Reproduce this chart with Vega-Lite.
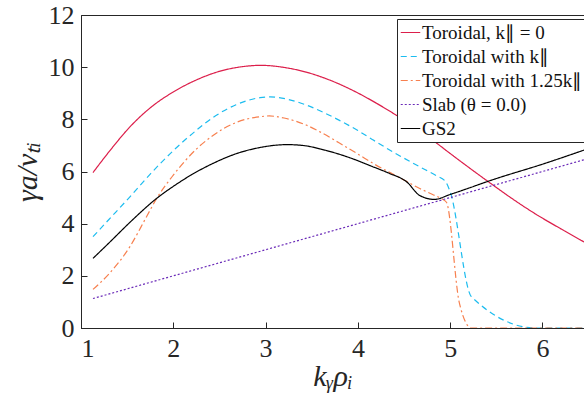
{
  "$schema": "https://vega.github.io/schema/vega-lite/v6.json",
  "width": 503,
  "height": 313,
  "autosize": {"type": "none"},
  "padding": {"left": 81, "top": 15, "right": 0, "bottom": 65},
  "background": "white",
  "config": {
    "view": {"stroke": "#262626", "strokeWidth": 1},
    "font": "Liberation Serif",
    "axis": {
      "domainColor": "#262626", "tickColor": "#262626", "labelColor": "#262626", "titleColor": "#262626",
      "grid": false, "labelFont": "Liberation Serif", "labelFontSize": 26, "tickSize": -6,
      "domainWidth": 1, "tickWidth": 1, "titleFont": "Liberation Serif", "titleFontWeight": "normal",
      "titleFontStyle": "italic", "titleFontSize": 30
    },
    "legend": {
      "fillColor": "white", "strokeColor": "#262626", "padding": 3, "symbolType": "stroke",
      "symbolSize": 380, "symbolStrokeWidth": 1.2, "labelFont": "Liberation Serif", "labelFontSize": 19,
      "labelColor": "#111111", "labelOffset": 1, "rowPadding": 3, "labelLimit": 400
    }
  },
  "data": {
    "values": [
      {"series": "Toroidal, k∥ = 0", "x": 1.13, "y": 5.96},
      {"series": "Toroidal, k∥ = 0", "x": 1.3, "y": 6.74},
      {"series": "Toroidal, k∥ = 0", "x": 1.53, "y": 7.71},
      {"series": "Toroidal, k∥ = 0", "x": 1.75, "y": 8.44},
      {"series": "Toroidal, k∥ = 0", "x": 2.0, "y": 9.05},
      {"series": "Toroidal, k∥ = 0", "x": 2.25, "y": 9.51},
      {"series": "Toroidal, k∥ = 0", "x": 2.5, "y": 9.84},
      {"series": "Toroidal, k∥ = 0", "x": 2.75, "y": 10.02},
      {"series": "Toroidal, k∥ = 0", "x": 2.95, "y": 10.07},
      {"series": "Toroidal, k∥ = 0", "x": 3.2, "y": 9.99},
      {"series": "Toroidal, k∥ = 0", "x": 3.44, "y": 9.81},
      {"series": "Toroidal, k∥ = 0", "x": 3.6, "y": 9.63},
      {"series": "Toroidal, k∥ = 0", "x": 3.8, "y": 9.35},
      {"series": "Toroidal, k∥ = 0", "x": 4.0, "y": 9.01},
      {"series": "Toroidal, k∥ = 0", "x": 4.2, "y": 8.62},
      {"series": "Toroidal, k∥ = 0", "x": 4.42, "y": 8.15},
      {"series": "Toroidal, k∥ = 0", "x": 4.6, "y": 7.74},
      {"series": "Toroidal, k∥ = 0", "x": 4.8, "y": 7.23},
      {"series": "Toroidal, k∥ = 0", "x": 5.0, "y": 6.69},
      {"series": "Toroidal, k∥ = 0", "x": 5.2, "y": 6.16},
      {"series": "Toroidal, k∥ = 0", "x": 5.46, "y": 5.49},
      {"series": "Toroidal, k∥ = 0", "x": 5.7, "y": 4.89},
      {"series": "Toroidal, k∥ = 0", "x": 5.93, "y": 4.36},
      {"series": "Toroidal, k∥ = 0", "x": 6.2, "y": 3.8},
      {"series": "Toroidal, k∥ = 0", "x": 6.45, "y": 3.3},

      {"series": "Toroidal with k∥", "x": 1.13, "y": 3.5},
      {"series": "Toroidal with k∥", "x": 1.3, "y": 4.15},
      {"series": "Toroidal with k∥", "x": 1.53, "y": 5.03},
      {"series": "Toroidal with k∥", "x": 1.75, "y": 5.9},
      {"series": "Toroidal with k∥", "x": 2.0, "y": 6.8},
      {"series": "Toroidal with k∥", "x": 2.25, "y": 7.58},
      {"series": "Toroidal with k∥", "x": 2.43, "y": 8.07},
      {"series": "Toroidal with k∥", "x": 2.68, "y": 8.56},
      {"series": "Toroidal with k∥", "x": 2.94, "y": 8.83},
      {"series": "Toroidal with k∥", "x": 3.05, "y": 8.86},
      {"series": "Toroidal with k∥", "x": 3.25, "y": 8.76},
      {"series": "Toroidal with k∥", "x": 3.44, "y": 8.55},
      {"series": "Toroidal with k∥", "x": 3.6, "y": 8.31},
      {"series": "Toroidal with k∥", "x": 3.8, "y": 7.96},
      {"series": "Toroidal with k∥", "x": 4.0, "y": 7.57},
      {"series": "Toroidal with k∥", "x": 4.16, "y": 7.22},
      {"series": "Toroidal with k∥", "x": 4.4, "y": 6.71},
      {"series": "Toroidal with k∥", "x": 4.67, "y": 6.18},
      {"series": "Toroidal with k∥", "x": 4.85, "y": 5.84},
      {"series": "Toroidal with k∥", "x": 4.95, "y": 5.61},
      {"series": "Toroidal with k∥", "x": 5.0, "y": 5.22},
      {"series": "Toroidal with k∥", "x": 5.23, "y": 1.2},
      {"series": "Toroidal with k∥", "x": 5.93, "y": 0.0},
      {"series": "Toroidal with k∥", "x": 6.45, "y": 0.0},

      {"series": "Toroidal with 1.25k∥", "x": 1.13, "y": 1.48},
      {"series": "Toroidal with 1.25k∥", "x": 1.31, "y": 2.1},
      {"series": "Toroidal with 1.25k∥", "x": 1.53, "y": 3.12},
      {"series": "Toroidal with 1.25k∥", "x": 1.7, "y": 4.2},
      {"series": "Toroidal with 1.25k∥", "x": 1.82, "y": 4.97},
      {"series": "Toroidal with 1.25k∥", "x": 2.0, "y": 5.86},
      {"series": "Toroidal with 1.25k∥", "x": 2.25, "y": 6.86},
      {"series": "Toroidal with 1.25k∥", "x": 2.43, "y": 7.38},
      {"series": "Toroidal with 1.25k∥", "x": 2.68, "y": 7.88},
      {"series": "Toroidal with 1.25k∥", "x": 2.94, "y": 8.1},
      {"series": "Toroidal with 1.25k∥", "x": 3.04, "y": 8.13},
      {"series": "Toroidal with 1.25k∥", "x": 3.2, "y": 8.05},
      {"series": "Toroidal with 1.25k∥", "x": 3.44, "y": 7.78},
      {"series": "Toroidal with 1.25k∥", "x": 3.6, "y": 7.5},
      {"series": "Toroidal with 1.25k∥", "x": 3.8, "y": 7.09},
      {"series": "Toroidal with 1.25k∥", "x": 4.0, "y": 6.67},
      {"series": "Toroidal with 1.25k∥", "x": 4.16, "y": 6.32},
      {"series": "Toroidal with 1.25k∥", "x": 4.45, "y": 5.77},
      {"series": "Toroidal with 1.25k∥", "x": 4.67, "y": 5.35},
      {"series": "Toroidal with 1.25k∥", "x": 4.81, "y": 5.12},
      {"series": "Toroidal with 1.25k∥", "x": 4.9, "y": 4.97},
      {"series": "Toroidal with 1.25k∥", "x": 4.96, "y": 4.82},
      {"series": "Toroidal with 1.25k∥", "x": 5.1, "y": 0.95},
      {"series": "Toroidal with 1.25k∥", "x": 5.23, "y": 0.0},
      {"series": "Toroidal with 1.25k∥", "x": 6.45, "y": 0.0},

      {"series": "Slab (θ = 0.0)", "x": 1.13, "y": 1.13},
      {"series": "Slab (θ = 0.0)", "x": 2.0, "y": 2.0},
      {"series": "Slab (θ = 0.0)", "x": 3.0, "y": 3.0},
      {"series": "Slab (θ = 0.0)", "x": 4.0, "y": 4.0},
      {"series": "Slab (θ = 0.0)", "x": 5.0, "y": 5.0},
      {"series": "Slab (θ = 0.0)", "x": 6.0, "y": 6.0},
      {"series": "Slab (θ = 0.0)", "x": 6.45, "y": 6.45},

      {"series": "GS2", "x": 1.13, "y": 2.67},
      {"series": "GS2", "x": 1.3, "y": 3.25},
      {"series": "GS2", "x": 1.53, "y": 4.05},
      {"series": "GS2", "x": 1.82, "y": 4.97},
      {"series": "GS2", "x": 2.0, "y": 5.43},
      {"series": "GS2", "x": 2.2, "y": 5.88},
      {"series": "GS2", "x": 2.43, "y": 6.31},
      {"series": "GS2", "x": 2.68, "y": 6.68},
      {"series": "GS2", "x": 2.94, "y": 6.92},
      {"series": "GS2", "x": 3.23, "y": 7.03},
      {"series": "GS2", "x": 3.4, "y": 7.0},
      {"series": "GS2", "x": 3.62, "y": 6.84},
      {"series": "GS2", "x": 3.8, "y": 6.66},
      {"series": "GS2", "x": 3.98, "y": 6.44},
      {"series": "GS2", "x": 4.15, "y": 6.2},
      {"series": "GS2", "x": 4.34, "y": 5.93},
      {"series": "GS2", "x": 4.53, "y": 5.6},
      {"series": "GS2", "x": 4.67, "y": 5.08},
      {"series": "GS2", "x": 4.83, "y": 4.93},
      {"series": "GS2", "x": 5.0, "y": 5.12},
      {"series": "GS2", "x": 5.5, "y": 5.73},
      {"series": "GS2", "x": 6.0, "y": 6.28},
      {"series": "GS2", "x": 6.45, "y": 6.82}
    ]
  },
  "mark": {"type": "line", "strokeWidth": 1.2, "clip": true, "interpolate": "monotone"},
  "encoding": {
    "x": {
      "field": "x", "type": "quantitative",
      "scale": {"domain": [1, 6.45], "nice": false, "zero": false},
      "axis": {"values": [1, 2, 3, 4, 5, 6], "labelPadding": 13, "title": "kᵧρᵢ", "titlePadding": 0}
    },
    "y": {
      "field": "y", "type": "quantitative",
      "scale": {"domain": [0, 12], "nice": false, "zero": false},
      "axis": {"values": [0, 2, 4, 6, 8, 10, 12], "labelPadding": 13, "title": "γa/vₜᵢ", "titlePadding": 6}
    },
    "color": {
      "field": "series", "type": "nominal",
      "scale": {
        "domain": ["Toroidal, k∥ = 0", "Toroidal with k∥", "Toroidal with 1.25k∥", "Slab (θ = 0.0)", "GS2"],
        "range": ["#dc1f4b", "#1cbcef", "#f7804f", "#6a2ab8", "#000000"]
      },
      "legend": {"title": null, "orient": "none", "legendX": 316, "legendY": 4}
    },
    "strokeDash": {
      "field": "series", "type": "nominal",
      "scale": {
        "domain": ["Toroidal, k∥ = 0", "Toroidal with k∥", "Toroidal with 1.25k∥", "Slab (θ = 0.0)", "GS2"],
        "range": [[1, 0], [6, 4], [7, 3, 2, 3], [2, 2], [1, 0]]
      },
      "legend": {"title": null, "orient": "none", "legendX": 316, "legendY": 4}
    }
  }
}
